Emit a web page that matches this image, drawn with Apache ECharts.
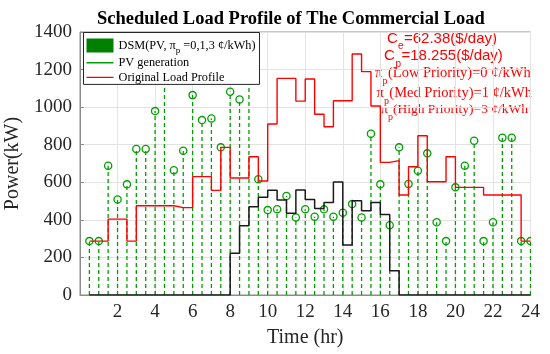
<!DOCTYPE html>
<html>
<head>
<meta charset="utf-8">
<script src="https://cdn.jsdelivr.net/npm/echarts@6/dist/echarts.min.js"></script>
<style>
  html, body { margin: 0; padding: 0; background: #fff; }
  #chart { width: 550px; height: 354px; }
</style>
</head>
<body>
<div id="chart"></div>
<script>
// ---- data ----
const hours = [0.5, 1, 1.5, 2, 2.5, 3, 3.5, 4, 4.5, 5, 5.5, 6, 6.5, 7, 7.5, 8,
  8.5, 9, 9.5, 10, 10.5, 11, 11.5, 12, 12.5, 13, 13.5, 14, 14.5, 15, 15.5, 16,
  16.5, 17, 17.5, 18, 18.5, 19, 19.5, 20, 20.5, 21, 21.5, 22, 22.5, 23, 23.5, 24];

const pvGeneration = [287, 287, 688, 509, 589, 777, 777, 979, 1250, 664, 768, 1064, 931, 940, 786, 1082,
  1041, 1200, 616, 452, 457, 527, 413, 457, 417, 456, 417, 438, 484, 413, 859, 589,
  371, 786, 591, 662, 754, 387, 287, 573, 688, 821, 287, 387, 837, 837, 287, 287];

const originalLoad = [287, 287, 404, 404, 287, 475, 475, 475, 475, 465, 465, 630, 630, 557, 786, 623,
  623, 736, 607, 910, 1153, 1153, 1032, 1150, 962, 896, 1034, 1034, 1283, 1189, 1006, 706,
  715, 532, 683, 848, 603, 603, 736, 573, 573, 573, 532, 532, 532, 532, 287, 287];

const scheduledLoad = [0, 0, 0, 0, 0, 0, 0, 0, 0, 0, 0, 0, 0, 0, 0, 222,
  369, 470, 520, 557, 506, 435, 559, 509, 461, 493, 601, 266, 502, 449, 493, 429,
  129, 0, 0, 0, 0, 0, 0, 0, 0, 0, 0, 0, 0, 0, 0, 0];

const xTicks = [0, 2, 4, 6, 8, 10, 12, 14, 16, 18, 20, 22, 24];
const yTicks = [0, 200, 400, 600, 800, 1000, 1200, 1400];

const titleText = 'Scheduled Load Profile of The Commercial Load';
const dsmName = 'DSM(PV, πp =0,1,3 ¢/kWh)';
const pvName = 'PV generation';
const loadName = 'Original Load Profile';

// ---- build ----
const pair = (xs, ys) => xs.map((x, i) => [x, ys[i]]);
const serif = 'Liberation Serif, Times New Roman, serif';
const sans = 'Liberation Sans, Arial, sans-serif';
const GREEN = '#00a000';
const RED = '#ff0000';
// thin horizontal line icon (corner points keep the 27x14 box)
const lineIcon = 'path://M0,0L0.01,0M0,6.3H27V7.7H0ZM0,14L0.01,14M27,0L26.99,0M27,14L26.99,14';

const chart = echarts.init(document.getElementById('chart'), null, { renderer: 'canvas' });

chart.setOption({
  animation: false,
  backgroundColor: '#fff',
  title: {
    text: titleText,
    left: 97, top: 9.5, padding: 0,
    textStyle: { fontFamily: serif, fontWeight: 'bold', fontSize: 18.5, color: '#000' }
  },
  grid: {
    left: 80, right: 19.5, top: 32, bottom: 59,
    outerBoundsMode: 'none', containLabel: false,
    show: true, borderColor: '#8c8c8c', borderWidth: 1, backgroundColor: 'transparent'
  },
  legend: {
    orient: 'vertical',
    left: 83.5, top: 32.5,
    padding: [6, 4, 0, 3],
    itemGap: 0.7,
    itemWidth: 27, itemHeight: 14,
    backgroundColor: '#fff',
    borderColor: '#262626', borderWidth: 1,
    selectedMode: false,
    data: [
      { name: dsmName, icon: 'rect', itemStyle: { color: '#008000', borderWidth: 0 } },
      { name: pvName, icon: lineIcon, itemStyle: { color: GREEN, borderWidth: 0 } },
      { name: loadName, icon: lineIcon, itemStyle: { color: RED, borderWidth: 0 } }
    ],
    formatter: function (name) {
      if (name === dsmName) return '{n|DSM(PV, π}{s|p}{n| =0,1,3 ¢/kWh)}';
      return '{n|' + name + '}';
    },
    textStyle: {
      fontFamily: serif, fontSize: 12.3, color: '#000',
      rich: {
        n: { fontFamily: serif, fontSize: 12.3, color: '#000' },
        s: { fontFamily: serif, fontSize: 9, color: '#000', padding: [10, 0, 0, 0] }
      }
    }
  },
  xAxis: {
    type: 'value', min: xTicks[0], max: xTicks[xTicks.length - 1], interval: 2,
    name: 'Time (hr)', nameLocation: 'middle', nameGap: 33,
    nameTextStyle: { fontFamily: serif, fontSize: 20, color: '#262626' },
    axisLine: { show: true, lineStyle: { color: '#8c8c8c', width: 1 } },
    axisTick: { show: true, inside: true, length: 4, lineStyle: { color: '#8c8c8c' } },
    axisLabel: {
      margin: 8, fontFamily: serif, fontSize: 19, color: '#262626',
      formatter: v => (v === 0 ? '' : String(v))
    },
    splitLine: { show: true, lineStyle: { color: '#e3e3e3', width: 1 } }
  },
  yAxis: {
    type: 'value', min: yTicks[0], max: yTicks[yTicks.length - 1], interval: 200,
    name: 'Power(kW)', nameLocation: 'middle', nameGap: 48,
    nameTextStyle: { fontFamily: serif, fontSize: 20, color: '#262626' },
    axisLine: { show: true, lineStyle: { color: '#8c8c8c', width: 1 } },
    axisTick: { show: true, inside: true, length: 4, lineStyle: { color: '#8c8c8c' } },
    axisLabel: { margin: 8, fontFamily: serif, fontSize: 19, color: '#262626', formatter: v => String(v) },
    splitLine: { show: true, lineStyle: { color: '#e3e3e3', width: 1 } }
  },
  series: [
    {
      name: dsmName, type: 'bar', data: [], color: '#008000',
      itemStyle: { color: '#008000' }
    },
    {
      name: 'PV stems', type: 'custom', z: 2,
      data: pair(hours, pvGeneration),
      clip: true,
      renderItem: function (params, api) {
        const base = api.coord([api.value(0), 0]);
        const top = api.coord([api.value(0), api.value(1)]);
        return {
          type: 'group',
          children: [
            { type: 'line', shape: { x1: base[0], y1: base[1], x2: top[0], y2: top[1] },
              style: { stroke: GREEN, lineWidth: 1.3, lineDash: [4, 3] } },
            { type: 'circle', shape: { cx: top[0], cy: top[1], r: 3.6 },
              style: { stroke: GREEN, fill: null, lineWidth: 1.3 } }
          ]
        };
      }
    },
    {
      name: pvName, type: 'line', data: [], symbol: 'none', color: GREEN,
      lineStyle: { color: GREEN, width: 1.3 }, itemStyle: { color: GREEN }
    },
    {
      name: 'Scheduled Load', type: 'line', step: 'end', symbol: 'none', z: 3, color: '#1a1a1a',
      data: pair(hours, scheduledLoad),
      lineStyle: { color: '#1a1a1a', width: 1.5 }, itemStyle: { color: '#1a1a1a' }
    },
    {
      name: loadName, type: 'line', step: 'end', symbol: 'none', z: 3, color: RED,
      data: pair(hours, originalLoad),
      lineStyle: { color: RED, width: 1.4 }, itemStyle: { color: RED }
    }
  ],
  graphic: [
    // Ce line
    { type: 'text', x: 387, y: 38.5, style: { text: 'C', font: '15px ' + sans, fill: RED, verticalAlign: 'middle' } },
    { type: 'text', x: 398, y: 46.5, style: { text: 'e', font: '10px ' + sans, fill: RED, verticalAlign: 'middle' } },
    { type: 'text', x: 404, y: 38.5, style: { text: '=62.38($/day)', font: '15px ' + sans, fill: RED, verticalAlign: 'middle' } },
    // Cp line
    { type: 'text', x: 384, y: 56, style: { text: 'C', font: '15px ' + sans, fill: RED, verticalAlign: 'middle' } },
    { type: 'text', x: 395.5, y: 64, style: { text: 'p', font: '10px ' + sans, fill: RED, verticalAlign: 'middle' } },
    { type: 'text', x: 401.5, y: 56, style: { text: '=18.255($/day)', font: '15px ' + sans, fill: RED, verticalAlign: 'middle' } },
    // priority lines
    { type: 'text', x: 375, y: 73.5, style: { text: 'π', font: '14.5px ' + serif, fill: RED, verticalAlign: 'middle' } },
    { type: 'text', x: 382.5, y: 81.3, style: { text: 'p', font: '10px ' + serif, fill: RED, verticalAlign: 'middle' } },
    { type: 'text', x: 388, y: 73.5, style: { text: '(Low Priority)=0 ¢/kWh', font: '14.5px ' + serif, fill: RED, verticalAlign: 'middle' } },

    { type: 'text', x: 376.5, y: 93.5, style: { text: 'π', font: '14.5px ' + serif, fill: RED, verticalAlign: 'middle' } },
    { type: 'text', x: 384, y: 101.3, style: { text: 'p', font: '10px ' + serif, fill: RED, verticalAlign: 'middle' } },
    { type: 'text', x: 389.3, y: 93.5, style: { text: '(Med Priority)=1 ¢/kWh', font: '14.5px ' + serif, fill: RED, verticalAlign: 'middle' } },

    { type: 'text', x: 381, y: 109.5, style: { text: 'π', font: '13.5px ' + serif, fill: RED, verticalAlign: 'middle' } },
    { type: 'text', x: 388, y: 117.3, style: { text: 'p', font: '10px ' + serif, fill: RED, verticalAlign: 'middle' } },
    { type: 'text', x: 393, y: 109.5, style: { text: '(High Priority)=3 ¢/kWh', font: '13.5px ' + serif, fill: RED, verticalAlign: 'middle' } }
  ]
});
</script>
</body>
</html>
